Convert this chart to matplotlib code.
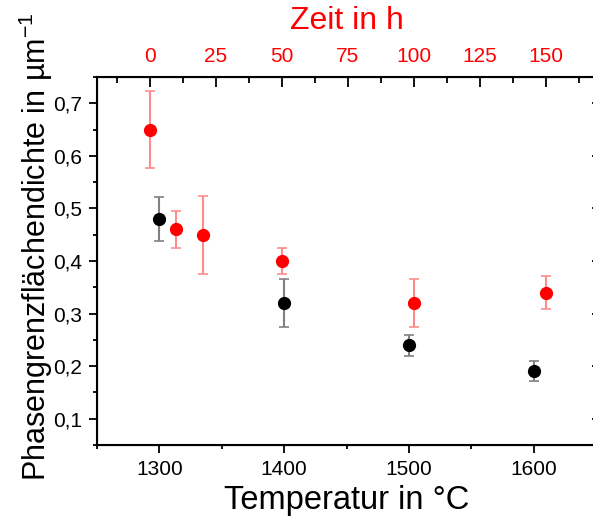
import matplotlib
matplotlib.use("Agg")
import matplotlib.pyplot as plt
from matplotlib.ticker import FuncFormatter, MultipleLocator

plt.rcParams["font.family"] = ["Liberation Sans", "DejaVu Sans"]
plt.rcParams["mathtext.fontset"] = "custom"
plt.rcParams["mathtext.rm"] = "Liberation Sans"
plt.rcParams["mathtext.it"] = "Liberation Sans:italic"

# Temperaturreihe (schwarz)
temp = [1300, 1400, 1500, 1600]
temp_val = [0.48, 0.32, 0.24, 0.19]
temp_err = [0.042, 0.045, 0.02, 0.019]

# Zeitreihe (rot)
zeit = [0, 10, 20, 50, 100, 150]
zeit_val = [0.65, 0.46, 0.45, 0.40, 0.32, 0.34]
zeit_err = [0.074, 0.036, 0.074, 0.024, 0.045, 0.031]

red = "#ff0000"


def comma(v, pos):
    return f"{v:.1f}".replace(".", ",")


fig = plt.figure(figsize=(5.93, 5.19), dpi=100)
ax = fig.add_axes([97 / 593, 1 - 445 / 519, 499 / 593, 368 / 519])

ax.errorbar(temp, temp_val, yerr=temp_err, fmt="o", color="black",
            ecolor="#808080", elinewidth=1.5, capsize=3.5, capthick=1.2,
            markersize=8.5, zorder=3)

ax.set_xlim(1250, 1650)
ax.set_ylim(0.05, 0.75)
ax.xaxis.set_major_locator(MultipleLocator(100))
ax.xaxis.set_minor_locator(MultipleLocator(50))
ax.yaxis.set_major_locator(MultipleLocator(0.1))
ax.yaxis.set_minor_locator(MultipleLocator(0.05))
ax.yaxis.set_major_formatter(FuncFormatter(comma))
ax.tick_params(axis="both", which="major", direction="out", length=6,
               width=1.3, labelsize=15, pad=5)
ax.tick_params(axis="both", which="minor", direction="out", length=3,
               width=1.3)
ax.tick_params(axis="y", which="minor", right=False)
for side in ["left", "bottom", "top", "right"]:
    ax.spines[side].set_linewidth(1.5)

ax.set_xlabel("Temperatur in °C", fontsize=23.5, labelpad=4)
ax.set_ylabel(r"Phasengrenzflächendichte in µm$^{-1}$", fontsize=22)
ax.yaxis.set_label_coords(-0.084, 0.54)

ax2 = ax.twiny()
ax2.errorbar(zeit, zeit_val, yerr=zeit_err, fmt="o", color=red,
             ecolor="#ff8c8c", elinewidth=1.5, capsize=3.5, capthick=1.2,
             markersize=8.5, zorder=3)
ax2.set_xlim(-20, 169)
ax2.xaxis.set_major_locator(MultipleLocator(25))
ax2.xaxis.set_minor_locator(MultipleLocator(12.5))
ax2.tick_params(axis="x", which="major", direction="in", length=7,
                width=1.3, labelsize=15, labelcolor=red, pad=8)
ax2.tick_params(axis="x", which="minor", direction="in", length=4,
                width=1.3)
ax2.set_xlabel("Zeit in h", fontsize=23, color=red, labelpad=13)

# rechte Ticks nur angedeutet (Achse liegt knapp außerhalb des Bildes)
ax.yaxis.set_tick_params(which="major", right=True)
for t in ax.yaxis.get_major_ticks():
    t.tick2line.set_marker(matplotlib.lines.TICKLEFT)
    t.tick2line.set_markersize(3)

fig.savefig("out.png", dpi=100)
